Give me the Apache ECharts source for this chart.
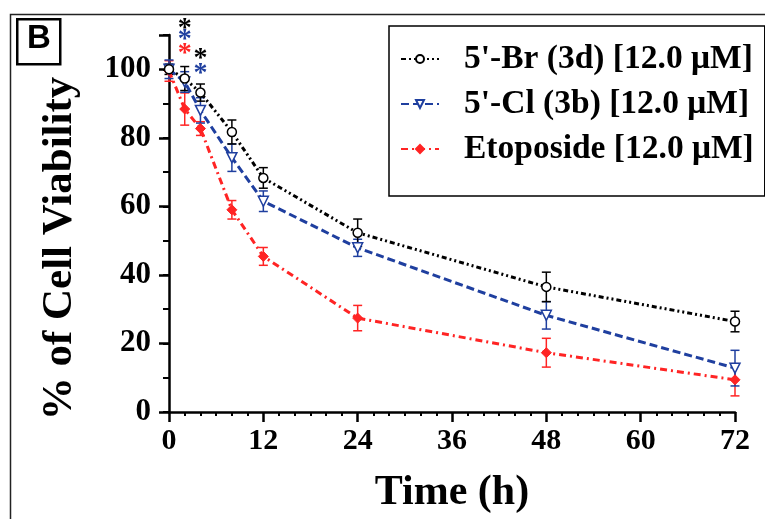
<!DOCTYPE html>
<html>
<head>
<meta charset="utf-8">
<script src="https://cdn.jsdelivr.net/npm/echarts@6/dist/echarts.min.js"></script>
<style>html,body{margin:0;padding:0;background:#fff;}#c{width:765px;height:519px;}</style>
</head>
<body>
<div id="c"></div>
<script>
// ---- data ----
const hours = [0, 2, 4, 8, 12, 24, 48, 72];
const brVals = [100, 97.3, 93.2, 81.7, 68.3, 52.3, 36.5, 26.4];
const brErr  = [1.5, 3.5, 2.5, 3.5, 3.0, 4.0, 4.3, 3.0];
const clVals = [100, 96.3, 88.0, 74.2, 61.5, 47.9, 28.2, 12.8];
const clErr  = [2.7, 3.0, 3.7, 4.0, 3.0, 2.5, 4.0, 5.2];
const etoVals = [99.5, 88.4, 82.7, 59.0, 45.4, 27.4, 17.3, 9.4];
const etoErr  = [3.0, 4.7, 2.0, 2.7, 2.6, 3.7, 4.2, 4.7];
const seriesNames = ["5'-Br (3d) [12.0 \u03bcM]", "5'-Cl (3b) [12.0 \u03bcM]", "Etoposide [12.0 \u03bcM]"];
const xTicks = [0, 12, 24, 36, 48, 60, 72];
const yTicks = [0, 20, 40, 60, 80, 100];
// significance asterisks: [hour, level, seriesIndex]
const starHours  = [2, 2, 2, 4, 4];
const starLevels = [113.3, 110.0, 106.0, 104.6, 100.2];
const starSeries = [0, 1, 2, 0, 1];

const colors = ['#000000', '#1f3f9f', '#ff2424'];
const serif = "'Liberation Serif','Times New Roman',serif";

function pairs(v){ return hours.map((h,i)=>[h, v[i]]); }
function errData(v, e){ return hours.map((h,i)=>[h, v[i]-e[i], v[i]+e[i]]); }
function errRender(color){
  return function(params, api){
    const x = api.value(0), lo = api.value(1), hi = api.value(2);
    const p1 = api.coord([x, lo]), p2 = api.coord([x, hi]);
    const w = 4.5;
    const st = {stroke: color, lineWidth: 1.5};
    return {type:'group', children:[
      {type:'line', shape:{x1:p1[0], y1:p1[1], x2:p2[0], y2:p2[1]}, style:st},
      {type:'line', shape:{x1:p1[0]-w, y1:p1[1], x2:p1[0]+w, y2:p1[1]}, style:st},
      {type:'line', shape:{x1:p2[0]-w, y1:p2[1], x2:p2[0]+w, y2:p2[1]}, style:st}
    ]};
  };
}

const chart = echarts.init(document.getElementById('c'), null, {renderer:'canvas'});
const axisCommon = {
  axisLine:{show:true, lineStyle:{color:'#000', width:2.5}},
  splitLine:{show:false}
};
const option = {
  animation:false,
  backgroundColor:'#fff',
  grid:{left:169, right:30, top:35, bottom:106, containLabel:false},
  xAxis:[{
    type:'value', min:0, max:72, interval:12, position:'bottom',
    ...axisCommon,
    axisTick:{show:true, length:10, lineStyle:{color:'#000', width:2.5}},
    minorTick:{show:true, splitNumber:6, length:4, lineStyle:{color:'#000', width:2}},
    axisLabel:{color:'#000', fontFamily:serif, fontWeight:'bold', fontSize:30, margin:14,
      customValues: xTicks},
    name:'Time (h)', nameLocation:'middle', nameGap:60,
    nameTextStyle:{color:'#000', fontFamily:serif, fontWeight:'bold', fontSize:42}
  }],
  yAxis:[{
    type:'value', min:0, max:110, interval:20, position:'left',
    ...axisCommon,
    axisTick:{show:true, length:10, lineStyle:{color:'#000', width:2.5}},
    axisLabel:{color:'#000', fontFamily:serif, fontWeight:'bold', fontSize:31, margin:18,
      customValues: yTicks},
    name:'% of Cell Viability', nameLocation:'middle', nameGap:88, nameRotate:90,
    nameTextStyle:{color:'#000', fontFamily:serif, fontWeight:'bold', fontSize:43, padding:[0, 50, 0, 0]}
  },{
    type:'value', min:0, max:110, interval:10, position:'left', offset:0,
    axisLine:{show:false}, splitLine:{show:false}, axisLabel:{show:false},
    axisTick:{show:true, length:6, lineStyle:{color:'#000', width:2}}
  }],
  legend:{
    orient:'vertical', left:389, top:26,
    data: seriesNames,
    itemWidth:38, itemHeight:10, itemGap:11,
    padding:[16, 11, 30, 11],
    borderColor:'#000', borderWidth:1.5, backgroundColor:'#fff',
    textStyle:{color:'#000', fontFamily:serif, fontWeight:'bold', fontSize:33.5, padding:[0,0,0,20]}
  },
  graphic:[
    {type:'rect', left:8, top:12, shape:{width:820, height:600},
      style:{fill:'none', stroke:'#222', lineWidth:1.5}, z:100},
    {type:'rect', left:16, top:18, shape:{width:43, height:45},
      style:{fill:'#fff', stroke:'#000', lineWidth:2.5}, z:100},
    {type:'text', left:27, top:22, style:{text:'B', fill:'#000',
      font:"bold 33px 'Liberation Sans', Arial, sans-serif"}, z:101}
  ],
  series:[
    {name:seriesNames[2], type:'line', data:pairs(etoVals), z:4,
      symbol:'diamond', symbolSize:10,
      lineStyle:{color:colors[2], width:3, type:[7,4,2,4]},
      itemStyle:{color:colors[2], borderColor:colors[2], borderWidth:1}},
    {name:seriesNames[1], type:'line', data:pairs(clVals), z:5,
      symbol:'triangle', symbolRotate:180, symbolSize:10,
      lineStyle:{color:colors[1], width:3, type:[8,4]},
      itemStyle:{color:'#fff', borderColor:colors[1], borderWidth:1.5}},
    {name:seriesNames[0], type:'line', data:pairs(brVals), z:6,
      symbol:'circle', symbolSize:9,
      lineStyle:{color:colors[0], width:3, type:[5,3,2,3,2,3]},
      itemStyle:{color:'#fff', borderColor:colors[0], borderWidth:1.5}},
    {type:'custom', data:errData(etoVals, etoErr), renderItem:errRender(colors[2]), z:3, silent:true},
    {type:'custom', data:errData(clVals, clErr), renderItem:errRender(colors[1]), z:3, silent:true},
    {type:'custom', data:errData(brVals, brErr), renderItem:errRender(colors[0]), z:3, silent:true},
    {type:'custom', z:7, silent:true, clip:false,
      data: starHours.map((h,i)=>[h, starLevels[i], starSeries[i]]),
      renderItem:function(params, api){
        const p = api.coord([api.value(0), api.value(1)]);
        return {type:'text', x:p[0], y:p[1] + 5, style:{text:'*', fill:colors[api.value(2)],
          font:"bold 28px 'Liberation Serif', serif", align:'center', verticalAlign:'middle'}};
      }}
  ]
};
chart.setOption(option);
</script>
</body>
</html>
